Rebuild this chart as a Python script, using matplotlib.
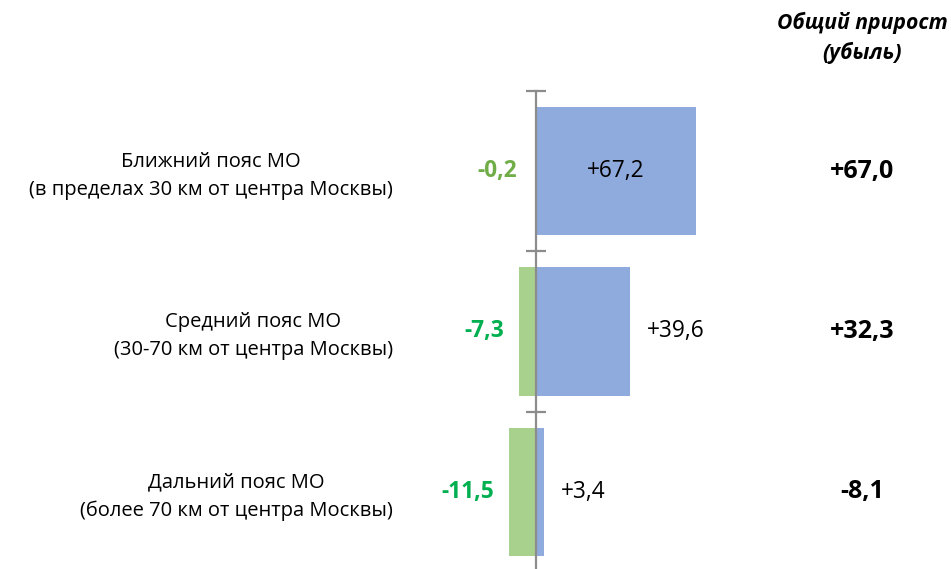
import matplotlib
matplotlib.use("Agg")
import matplotlib.pyplot as plt

plt.rcParams["font.family"] = ["Open Sans", "DejaVu Sans"]

zones = [
    "Ближний пояс МО\n(в пределах 30 км от центра Москвы)",
    "Средний пояс МО\n(30-70 км от центра Москвы)",
    "Дальний пояс МО\n(более 70 км от центра Москвы)",
]
loss = [-0.2, -7.3, -11.5]
gain = [67.2, 39.6, 3.4]
total = [67.0, 32.3, -8.1]
loss_colors = ["#70AD47", "#00B050", "#00B050"]

BLUE = "#8FAADC"
GREEN = "#A9D18E"
FS = 14.5      # category labels
FS_VAL = 16.3  # bar value labels
FS_TOT = 18    # totals


def fmt(v, sign=True):
    s = f"{v:+.1f}" if sign and v > 0 else f"{v:.1f}"
    return s.replace(".", ",")


W, H = 951, 569
fig = plt.figure(figsize=(W / 100, H / 100), dpi=100)
ax = fig.add_axes([0, -3 / H, 1, (H - 88) / H])

y = list(range(len(zones)))
ax.barh(y, gain, height=0.8, color=BLUE, zorder=2)
ax.barh(y, loss, height=0.8, color=GREEN, zorder=2)

px = 2.38  # pixels per unit
ax.set_xlim(-536 / px, (W - 536) / px)
ax.set_ylim(len(zones) - 0.5, -0.5)

for s in ["top", "right", "bottom"]:
    ax.spines[s].set_visible(False)
ax.spines["left"].set_position(("data", 0))
ax.spines["left"].set_color("#8C8C8C")
ax.spines["left"].set_linewidth(1.6)
ax.spines["left"].set_zorder(3)
ax.set_yticks([i - 0.5 for i in range(len(zones) + 1)])
ax.tick_params(axis="y", direction="inout", length=14, width=1.6, color="#8C8C8C", labelleft=False)
ax.set_xticks([])

for i in y:
    ax.text(393 / W, i + 0.03, zones[i], transform=ax.get_yaxis_transform(), ha="right", va="center",
            multialignment="center", fontsize=FS, linespacing=1.55)
    if gain[i] > 50:
        ax.text(gain[i] / 2, i, fmt(gain[i]), ha="center", va="center", fontsize=FS_VAL)
    else:
        ax.annotate(fmt(gain[i]), (gain[i], i), xytext=(17, 0), textcoords="offset pixels",
                    ha="left", va="center", fontsize=FS_VAL)
    ax.annotate(fmt(loss[i]), (min(loss[i], -1.5), i), xytext=(-15, 0), textcoords="offset pixels",
                ha="right", va="center", fontsize=FS_VAL, fontweight="bold", color=loss_colors[i])
    ax.text(862 / W, i, fmt(total[i]), transform=ax.get_yaxis_transform(), ha="center", va="center",
            fontsize=FS_TOT, fontweight="bold")

fig.text(862 / W, 1 - 38 / H, "Общий прирост\n(убыль)", ha="center", va="center",
         fontsize=15.2, fontweight="bold", fontstyle="italic", linespacing=1.45)

fig.savefig("out.png", dpi=100)
